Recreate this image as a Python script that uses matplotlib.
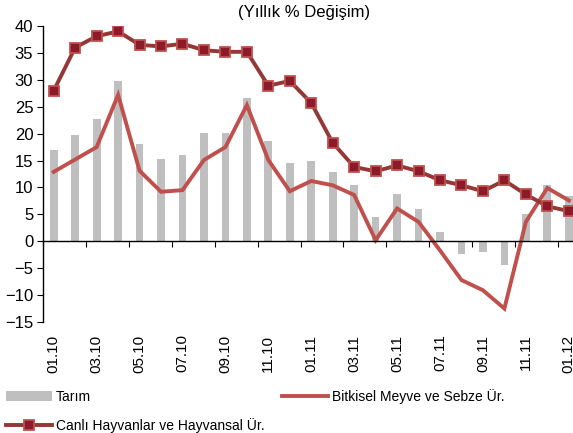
import numpy as np
import matplotlib
matplotlib.use("Agg")
from matplotlib import pyplot as plt

plt.rcParams['font.family'] = ['Liberation Sans', 'DejaVu Sans']

# data (yearly % change), monthly 01.10 - 01.12
months = ["01.10", "02.10", "03.10", "04.10", "05.10", "06.10", "07.10", "08.10",
          "09.10", "10.10", "11.10", "12.10", "01.11", "02.11", "03.11", "04.11",
          "05.11", "06.11", "07.11", "08.11", "09.11", "10.11", "11.11", "12.11", "01.12"]
tarim = [16.9, 19.7, 22.7, 29.8, 18.1, 15.3, 16.1, 20.2, 20.2, 26.7, 18.7, 14.5,
         14.9, 12.8, 10.5, 4.5, 8.7, 6.0, 1.7, -2.3, -2.0, -4.5, 5.1, 10.5, 8.4]
bitkisel = [12.9, 15.2, 17.5, 27.2, 13.1, 9.2, 9.5, 15.1, 17.5, 25.3, 15.1, 9.3,
            11.2, 10.4, 8.6, 0.2, 6.1, 3.6, -1.7, -7.2, -9.1, -12.5, 3.6, 9.9, 7.6]
canli = [28.0, 36.0, 38.1, 39.0, 36.5, 36.2, 36.7, 35.5, 35.2, 35.2, 28.9, 29.8,
         25.7, 18.3, 13.8, 13.0, 14.1, 13.0, 11.35, 10.4, 9.3, 11.3, 8.7, 6.5, 5.6]

x = np.arange(len(months))

fig = plt.figure(figsize=(5.73, 4.33), dpi=100)
ax = fig.add_axes([43/573, 1 - 322/433, 1 - 43/573, (322 - 26)/433])

bars = ax.bar(x, tarim, width=0.36, color="#BFBFBF", label="Tarım", zorder=1)
l1, = ax.plot(x, bitkisel, color="#C0504D", lw=2.8, label="Bitkisel Meyve ve Sebze Ür.",
              solid_joinstyle="miter", zorder=2)
l2, = ax.plot(x, canli, color="#953735", lw=2.8, marker="s", markersize=6.5,
              markerfacecolor="#8B1A2B", markeredgecolor="#C0504D", markeredgewidth=1.3,
              label="Canlı Hayvanlar ve Hayvansal Ür.", zorder=3)

ax.set_ylim(-15, 40)
ax.set_yticks(np.arange(-15, 41, 5))
ax.set_xlim(-0.5, -0.5 + (573 - 43) / 21.46)

for s in ["top", "right"]:
    ax.spines[s].set_visible(False)
ax.spines["bottom"].set_position(("data", 0))
ax.spines["left"].set_linewidth(1.0)
ax.spines["bottom"].set_linewidth(1.0)

ax.set_xticks(np.arange(-0.5, len(months), 2))
ax.set_xticklabels([])
ax.tick_params(axis="x", direction="out", length=4, width=0.8)
ax.tick_params(axis="y", direction="out", length=4, width=0.8, labelsize=12, pad=3)

sec = ax.secondary_xaxis("bottom")
sec.set_xticks(x[::2])
sec.set_xticklabels(months[::2], rotation=90, fontsize=11)
sec.tick_params(length=0, pad=9)
sec.spines["bottom"].set_visible(False)

fig.text(304/573, 1 - 13/433, "(Yıllık % Değişim)", ha="center", va="center", fontsize=12)

fig.legend([bars, l2, l1], ["Tarım", "Canlı Hayvanlar ve Hayvansal Ür.", "Bitkisel Meyve ve Sebze Ür."],
           ncol=2, loc="upper left", bbox_to_anchor=(0.006, 1 - 386/433), frameon=False,
           fontsize=10, handlelength=3.3, handletextpad=0.3, columnspacing=1.25,
           labelspacing=1.05, borderpad=0.2, borderaxespad=0)

fig.savefig("out.png", dpi=100)
